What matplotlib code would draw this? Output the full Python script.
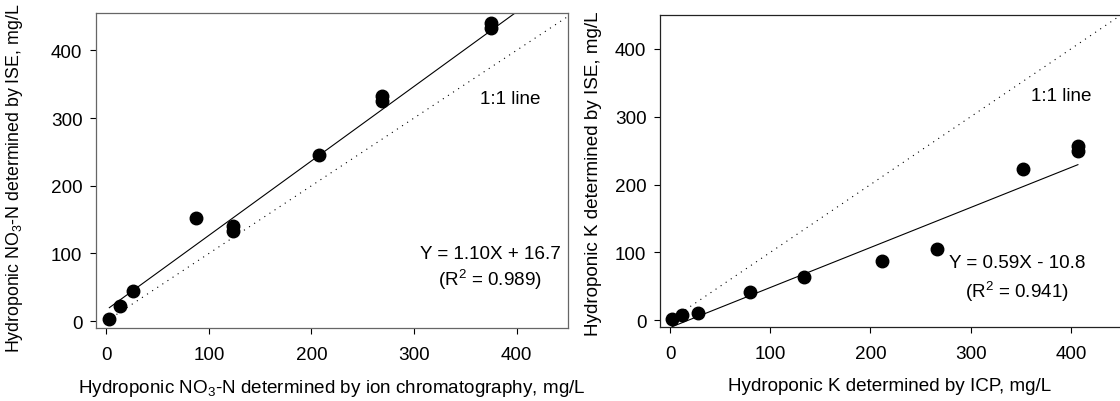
import numpy as np
import matplotlib
matplotlib.use("Agg")
import matplotlib.pyplot as plt

plt.rcParams['font.family'] = ['Liberation Sans', 'DejaVu Sans']
plt.rcParams['mathtext.fontset'] = 'custom'
plt.rcParams['mathtext.rm'] = 'Liberation Sans'
plt.rcParams['mathtext.it'] = 'Liberation Sans'

# == data ==

# nitrate: ion chromatography vs ISE
no3_ic = [3, 13, 26, 87, 124, 124, 207, 269, 269, 375, 375]
no3_ise = [4, 22, 44, 152, 140, 133, 246, 332, 325, 440, 433]
no3_slope, no3_icpt = 1.10, 16.7
no3_fit_range = [3, 410]
no3_eq = "Y = 1.10X + 16.7"
no3_r2 = "(R$^\\mathregular{2}$ = 0.989)"

# potassium: ICP vs ISE
k_icp = [2, 12, 28, 80, 134, 212, 266, 352, 407, 407]
k_ise = [2, 7, 11, 41, 63, 88, 105, 223, 257, 249]
k_slope, k_icpt = 0.59, -10.8
k_fit_range = [2, 407]
k_eq = "Y = 0.59X - 10.8"
k_r2 = "(R$^\\mathregular{2}$ = 0.941)"

ticks = [0, 100, 200, 300, 400]
fs = 13.6

fig = plt.figure(figsize=(11.2, 4.02), dpi=100)
W, H = 1120, 402


def box(l, t, r, b):
    return [l / W, 1 - b / H, (r - l) / W, (b - t) / H]


ax1 = fig.add_axes(box(96, 14, 568, 329))
ax2 = fig.add_axes(box(660, 16, 1121, 328))


def panel(ax, xs, ys, slope, icpt, rng, ylim, eq, r2, eq_xy, r2_xy, one_xy, spine_col):
    ax.plot([0, 450], [0, 450], color='black', lw=0.8, dashes=(1, 4.5))
    fx = np.array(rng, dtype=float)
    ax.plot(fx, slope * fx + icpt, color='black', lw=0.8)
    ax.plot(xs, ys, 'o', color='black', ms=9, mec='black', clip_on=False)
    ax.set_xlim(-10, 450)
    ax.set_ylim(*ylim)
    ax.set_xticks(ticks)
    ax.set_yticks(ticks)
    ax.tick_params(direction='out', length=4.3, width=0.8, labelsize=fs, pad=5.5)
    ax.tick_params(axis='x', pad=8.5)
    for s in ax.spines.values():
        s.set_color(spine_col)
        s.set_linewidth(0.9)
    ax.text(*eq_xy, eq, ha='center', va='center', fontsize=fs)
    ax.text(*r2_xy, r2, ha='center', va='center', fontsize=fs)
    ax.text(*one_xy, "1:1 line", ha='center', va='center', fontsize=fs)


panel(ax1, no3_ic, no3_ise, no3_slope, no3_icpt, no3_fit_range, (-10, 455),
      no3_eq, no3_r2, (374, 100), (374, 62), (394, 329), '#666666')
panel(ax2, k_icp, k_ise, k_slope, k_icpt, k_fit_range, (-10, 450),
      k_eq, k_r2, (346, 85), (346, 43), (390, 332), '#222222')

# left y label is a bit smaller so it fits the height of the figure
fig.text(15 / W, 1 - 178 / H, "Hydroponic NO$_\\mathregular{3}$-N determined by ISE, mg/L",
         rotation=90, ha='center', va='center', fontsize=12.8)
fig.text(593 / W, 1 - 174 / H, "Hydroponic K determined by ISE, mg/L",
         rotation=90, ha='center', va='center', fontsize=fs)
fig.text(332 / W, 1 - 389 / H, "Hydroponic NO$_\\mathregular{3}$-N determined by ion chromatography, mg/L",
         ha='center', va='center', fontsize=fs)
fig.text(890 / W, 1 - 387 / H, "Hydroponic K determined by ICP, mg/L",
         ha='center', va='center', fontsize=fs)

fig.savefig("out.png", dpi=100)
